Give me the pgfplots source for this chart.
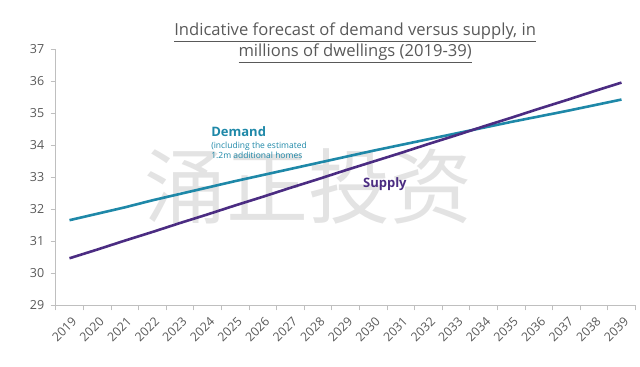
\documentclass[border=0pt]{standalone}
\usepackage{pgfplots}
\pgfplotsset{compat=1.18}
\usepackage{fontspec}
\setmainfont{Open Sans}
\newfontfamily\cjk{Noto Sans CJK SC}
\definecolor{demandc}{HTML}{1E88A8}
\definecolor{supplyc}{HTML}{4B2C82}
\definecolor{txtgray}{HTML}{595959}
\definecolor{axgray}{HTML}{BFBFBF}
\begin{document}
\begin{tikzpicture}
\useasboundingbox (-55.7bp,-61.7bp) rectangle (584.3bp,305.3bp);
\begin{axis}[
  scale only axis,
  width=579.6bp, height=256bp,
  xmin=0, xmax=21, ymin=29, ymax=37,
  axis x line*=bottom, axis y line*=left,
  axis line style={axgray, line width=0.8pt},
  every tick/.style={axgray, line width=0.8pt},
  xtick={0.5,1.5,...,20.5},
  xticklabels={2019,2020,2021,2022,2023,2024,2025,2026,2027,2028,2029,2030,2031,2032,2033,2034,2035,2036,2037,2038,2039},
  major x tick style={draw=none},
  minor xtick={0,1,...,21},
  minor tick length=5bp,
  ytick={29,30,...,37},
  major tick length=5bp,
  tick align=outside,
  xticklabel style={rotate=45, anchor=north east, font=\fontsize{12.3bp}{14bp}\selectfont, text=txtgray, xshift=-2bp, yshift=-4bp, inner sep=1bp},
  yticklabel style={font=\fontsize{12.5bp}{14bp}\selectfont, text=txtgray, xshift=-3bp},
  /pgf/number format/assume math mode=true,
  clip=false,
]
\node[text=gray!22, font=\cjk\fontsize{82bp}{86bp}\selectfont, anchor=center] at (axis cs:9.15,32.7) {涌正投资};
\addplot[demandc, line width=2.6bp] coordinates {
(0.5,31.66) (1.5,31.86) (2.5,32.06) (3.5,32.28) (4.5,32.48) (5.5,32.68) (6.5,32.88) (7.5,33.07) (8.5,33.26) (9.5,33.45) (10.5,33.64) (11.5,33.83) (12.5,34.01) (13.5,34.19) (14.5,34.37) (15.5,34.55) (16.5,34.73) (17.5,34.90) (18.5,35.07) (19.5,35.25) (20.5,35.43)};
\addplot[supplyc, line width=2.6bp] coordinates {
(0.5,30.47) (1.5,30.74) (2.5,31.02) (3.5,31.29) (4.5,31.57) (5.5,31.84) (6.5,32.12) (7.5,32.39) (8.5,32.67) (9.5,32.94) (10.5,33.22) (11.5,33.49) (12.5,33.76) (13.5,34.04) (14.5,34.31) (15.5,34.59) (16.5,34.86) (17.5,35.14) (18.5,35.41) (19.5,35.69) (20.5,35.96)};
\node[anchor=north west, align=left, inner sep=0pt, text=demandc, font=\fontsize{8.5bp}{10bp}\selectfont] at (axis cs:5.63,34.6) {{\fontsize{13bp}{15bp}\selectfont\bfseries Demand}\\[2.5bp](including the estimated\\1.2m additional homes};
\node[anchor=west, inner sep=0pt, text=supplyc, font=\fontsize{13bp}{15bp}\selectfont\bfseries] at (axis cs:11.13,32.78) {Supply};
\node[anchor=base, align=center, text=txtgray, font=\fontsize{16.6bp}{21bp}\selectfont] at (axis cs:10.85,36.78) {\underline{Indicative forecast of demand versus supply, in}\\\underline{millions of dwellings (2019-39)}};
\end{axis}
\end{tikzpicture}
\end{document}
